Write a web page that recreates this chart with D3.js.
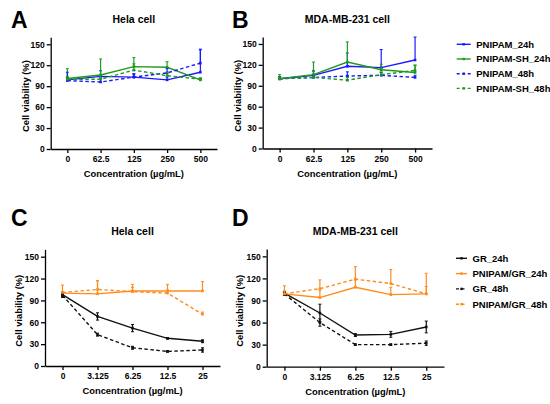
<!DOCTYPE html>
<html lang="en">
<head>
<meta charset="utf-8">
<title>Cell viability</title>
<script src="https://cdn.jsdelivr.net/npm/d3@7"></script>
<style>
	body { margin: 0; background: white; font-family: "Liberation Sans", Arial, sans-serif; }
	svg text { font-weight: bold; fill: black; }
	.axis path, .axis line { stroke: black; stroke-width: 1.3px; }
	.axis text { font-size: 8.5px; font-family: "Liberation Sans", Arial, sans-serif; }
</style>
</head>
<body>
<svg id="chart" width="550" height="404"></svg>
<script>

// top row: PNIPAM / PNIPAM-SH, concentration in ug/mL
var topConc = ["0", "62.5", "125", "250", "500"]
var topNames = ["PNIPAM_24h", "PNIPAM-SH_24h", "PNIPAM_48h", "PNIPAM-SH_48h"]
var topColors = ["#1a1aff", "#1f9a1f", "#1a1aff", "#1f9a1f"]
var topDash = [false, false, true, true]
var topBoth = [false, false, false, false]   // error bar drawn both ways or only up

var helaTop = [
	[99, 104, 103, 99, 110],
	[101, 106, 118, 117, 99],
	[98, 96, 103, 109, 123],
	[100, 100, 113, 105, 100]
]
var helaTopErr = [
	[3, 8, 4, 4, 33],
	[14, 23, 13, 8, 2],
	[12, 4, 5, 6, 19],
	[4, 6, 9, 5, 2]
]
var mdaTop = [
	[100, 105, 118, 116, 127],
	[100, 106, 124, 113, 109],
	[100, 102, 104, 105, 102],
	[100, 102, 98, 106, 112]
]
var mdaTopErr = [
	[3, 6, 19, 26, 33],
	[6, 18, 29, 8, 10],
	[3, 3, 6, 4, 3],
	[3, 10, 4, 4, 8]
]

// bottom row: GR / PNIPAM/GR
var botConc = ["0", "3.125", "6.25", "12.5", "25"]
var botNames = ["GR_24h", "PNIPAM/GR_24h", "GR_48h", "PNIPAM/GR_48h"]
var botColors = ["#111111", "#ff8c1a", "#111111", "#ff8c1a"]
var botDash = [false, false, true, true]
var botBoth = [true, false, true, false]

var helaBot = [
	[98, 68, 52, 38, 34],
	[100, 99, 103, 103, 103],
	[97, 43, 25, 20, 22],
	[101, 105, 102, 100, 71]
]
var helaBotErr = [
	[3, 5, 5, 1, 2],
	[2, 18, 9, 9, 13],
	[3, 2, 2, 1, 3],
	[10, 12, 6, 4, 3]
]
var mdaBot = [
	[100, 73, 43, 44, 54],
	[99, 94, 108, 98, 99],
	[99, 60, 30, 30, 32],
	[99, 106, 119, 113, 99]
]
var mdaBotErr = [
	[2, 12, 2, 4, 8],
	[11, 10, 10, 10, 10],
	[2, 5, 1, 1, 3],
	[4, 12, 17, 19, 28]
]

var yTicks = [0, 30, 60, 90, 120, 150]

var svg = d3.select("#chart")

function drawPanel(p) {
	var g = svg.append("g")
	var x = d3.scalePoint().domain(p.conc).range([p.left, p.right]).padding(0.5)
	var y = d3.scaleLinear().domain([0, 160]).range([p.bottom, p.top])

	g.append("g").attr("class", "axis")
		.attr("transform", "translate(0," + p.bottom + ")")
		.call(d3.axisBottom(x).tickSize(4).tickSizeOuter(0).tickPadding(3))
	g.append("g").attr("class", "axis")
		.attr("transform", "translate(" + p.left + ",0)")
		.call(d3.axisLeft(y).tickValues(yTicks).tickSize(4).tickSizeOuter(0).tickPadding(2))

	var line = d3.line().x(function(d, i) { return x(p.conc[i]) }).y(function(d) { return y(d) })

	p.values.forEach(function(vals, s) {
		var col = p.colors[s]
		var sg = g.append("g")
		sg.append("path").datum(vals)
			.attr("d", line)
			.attr("fill", "none")
			.attr("stroke", col)
			.attr("stroke-width", 1.4)
			.attr("stroke-dasharray", p.dash[s] ? "3.5,2.5" : null)
		vals.forEach(function(v, i) {
			var cx = x(p.conc[i])
			var e = p.errs[s][i]
			var lo = p.both[s] ? v - e : v
			sg.append("line").attr("x1", cx).attr("x2", cx)
				.attr("y1", y(v + e)).attr("y2", y(lo))
				.attr("stroke", col).attr("stroke-width", 1.2)
			var caps = p.both[s] ? [v + e, v - e] : [v + e]
			caps.forEach(function(c) {
				sg.append("line").attr("x1", cx - 1.5).attr("x2", cx + 1.5)
					.attr("y1", y(c)).attr("y2", y(c))
					.attr("stroke", col).attr("stroke-width", 1)
			})
			sg.append("rect").attr("x", cx - 1.3).attr("y", y(v) - 1.3)
				.attr("width", 2.6).attr("height", 2.6).attr("fill", col)
		})
	})

	g.append("text").attr("x", (p.left + p.right) / 2).attr("y", p.titleY)
		.attr("text-anchor", "middle").style("font-size", "10.5px").text(p.title)
	g.append("text").attr("x", (p.left + p.right) / 2).attr("y", p.bottom + 28)
		.attr("text-anchor", "middle").style("font-size", "9.4px").text("Concentration (\u00b5g/mL)")
	g.append("text")
		.attr("transform", "translate(" + p.ylabX + "," + ((p.top + p.bottom) / 2 + 3) + ") rotate(-90)")
		.attr("text-anchor", "middle").style("font-size", "9.4px").text("Cell viability (%)")
	g.append("text").attr("x", p.letterX).attr("y", p.letterY)
		.style("font-size", "23px").style("font-family", "'Liberation Sans', Arial, sans-serif").text(p.letter)
}

function drawLegend(lx, ly, gap, names, colors, dash, lineLen) {
	var lg = svg.append("g")
	names.forEach(function(n, i) {
		var yy = ly + i * gap
		lg.append("line").attr("x1", lx).attr("x2", lx + lineLen).attr("y1", yy).attr("y2", yy)
			.attr("stroke", colors[i]).attr("stroke-width", 1.4)
			.attr("stroke-dasharray", dash[i] ? "3,2.5" : null)
		lg.append("rect").attr("x", lx + lineLen / 2 - 1.2).attr("y", yy - 1.2)
			.attr("width", 2.4).attr("height", 2.4).attr("fill", colors[i])
		lg.append("text").attr("x", lx + lineLen + 5.5).attr("y", yy + 3.4)
			.style("font-size", "9.5px").text(n)
	})
}

drawPanel({conc: topConc, values: helaTop, errs: helaTopErr, colors: topColors, dash: topDash, both: topBoth,
	left: 50.7, right: 217, top: 37.3, bottom: 149, title: "Hela cell", titleY: 22.5,
	ylabX: 29, letter: "A", letterX: 11, letterY: 27.5})
drawPanel({conc: topConc, values: mdaTop, errs: mdaTopErr, colors: topColors, dash: topDash, both: topBoth,
	left: 262.7, right: 432, top: 37, bottom: 148.5, title: "MDA-MB-231 cell", titleY: 22.5,
	ylabX: 241, letter: "B", letterX: 232, letterY: 27.5})
drawPanel({conc: botConc, values: helaBot, errs: helaBotErr, colors: botColors, dash: botDash, both: botBoth,
	left: 45, right: 220, top: 249.4, bottom: 366, title: "Hela cell", titleY: 234.5,
	ylabX: 21.5, letter: "C", letterX: 11, letterY: 225.5})
drawPanel({conc: botConc, values: mdaBot, errs: mdaBotErr, colors: botColors, dash: botDash, both: botBoth,
	left: 266.7, right: 444, top: 249, bottom: 366.7, title: "MDA-MB-231 cell", titleY: 234.5,
	ylabX: 243, letter: "D", letterX: 232, letterY: 225.5})

drawLegend(456.7, 44.3, 14.7, topNames, topColors, topDash, 14)
drawLegend(456, 258.3, 15.3, botNames, botColors, botDash, 11)

</script>
</body>
</html>
